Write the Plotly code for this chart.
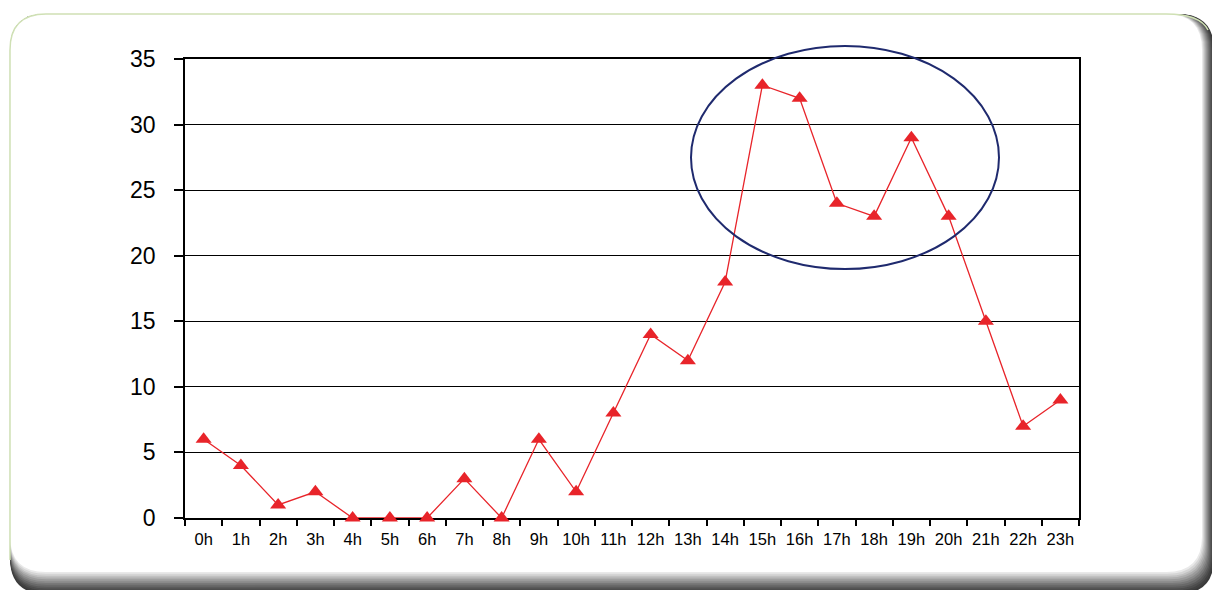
import plotly.graph_objects as go

# Hourly counts
hours = [f"{h}h" for h in range(24)]
counts = [6, 4, 1, 2, 0, 0, 0, 3, 0, 6, 2, 8, 14, 12, 18, 33, 32, 24, 23, 29, 23, 15, 7, 9]
y_ticks = [0, 5, 10, 15, 20, 25, 30, 35]

W, H = 1212, 590
ML, MR, MT, MB = 185, W - 1079, 59, H - 518
PW, PH = W - ML - MR, H - MT - MB


def px(x):
    return (x - ML) / PW


def py(y):
    return (H - MB - y) / PH


def rounded_rect(x0, y0, x1, y1, r):
    pts = [
        ("M", px(x0 + r), py(y0)),
        ("L", px(x1 - r), py(y0)),
        ("Q", px(x1), py(y0), px(x1), py(y0 + r)),
        ("L", px(x1), py(y1 - r)),
        ("Q", px(x1), py(y1), px(x1 - r), py(y1)),
        ("L", px(x0 + r), py(y1)),
        ("Q", px(x0), py(y1), px(x0), py(y1 - r)),
        ("L", px(x0), py(y0 + r)),
        ("Q", px(x0), py(y0), px(x0 + r), py(y0)),
    ]
    s = ""
    for p in pts:
        s += p[0] + " " + " ".join(f"{v:.5f}" for v in p[1:]) + " "
    return s + "Z"


shapes = []
# card shadow: layered rounded rects fading from dark to white
n = 12
for i in range(n + 1):
    t = i / n
    c = int(0x3a + (0xff - 0x3a) * (t ** 1.3))
    shapes.append(dict(
        type="path", xref="paper", yref="paper", layer="below",
        path=rounded_rect(10, 14, 1214 - 12 * t, 594 - 22 * t, 36),
        fillcolor=f"rgb({c},{c},{c})", line=dict(width=0),
    ))
# green edge along the top and left of the card
r = 36
edge = (f"M {px(10):.5f} {py(560):.5f} L {px(10):.5f} {py(14 + r):.5f} "
        f"Q {px(10):.5f} {py(14):.5f} {px(10 + r):.5f} {py(14):.5f} "
        f"L {px(1166):.5f} {py(14):.5f} Q {px(1200):.5f} {py(14):.5f} {px(1208):.5f} {py(30):.5f}")
shapes.append(dict(type="path", xref="paper", yref="paper", layer="below",
                   path=edge, line=dict(color="#cfe0b4", width=1.5)))
# highlight ellipse around the afternoon peak
shapes.append(dict(type="circle", xref="paper", yref="paper",
                   x0=px(691), x1=px(999), y0=py(269), y1=py(46),
                   line=dict(color="#1f2a6e", width=2)))

fig = go.Figure()
fig.add_trace(go.Scatter(
    x=hours, y=counts, mode="lines+markers",
    line=dict(color="#e8242a", width=1.3),
    marker=dict(symbol="triangle-up", size=14, color="#e8242a"),
    cliponaxis=False, showlegend=False,
))

fig.update_layout(
    width=W, height=H,
    margin=dict(l=ML, r=MR, t=MT, b=MB, pad=0),
    paper_bgcolor="white", plot_bgcolor="rgba(0,0,0,0)",
    font=dict(family="Liberation Sans, Arial, sans-serif", color="black"),
    shapes=shapes,
)
fig.update_xaxes(
    type="category", range=[-0.5, 23.5], showgrid=False,
    showline=True, linecolor="black", linewidth=1.5, mirror=True,
    ticks="outside", tickson="boundaries", ticklen=6, tickcolor="black", tickwidth=1.5,
    tickfont=dict(size=16.5), tickangle=0, ticklabelstandoff=5, zeroline=False,
    layer="below traces",
)
fig.update_yaxes(
    range=[0, 35], tickvals=y_ticks, showgrid=True, gridcolor="black", gridwidth=1,
    showline=True, linecolor="black", linewidth=1.5, mirror=True,
    ticks="outside", ticklen=9, tickcolor="black", tickwidth=1.5,
    tickfont=dict(size=23), ticklabelstandoff=14, zeroline=False,
    layer="below traces",
)

fig.write_html("out.html")
